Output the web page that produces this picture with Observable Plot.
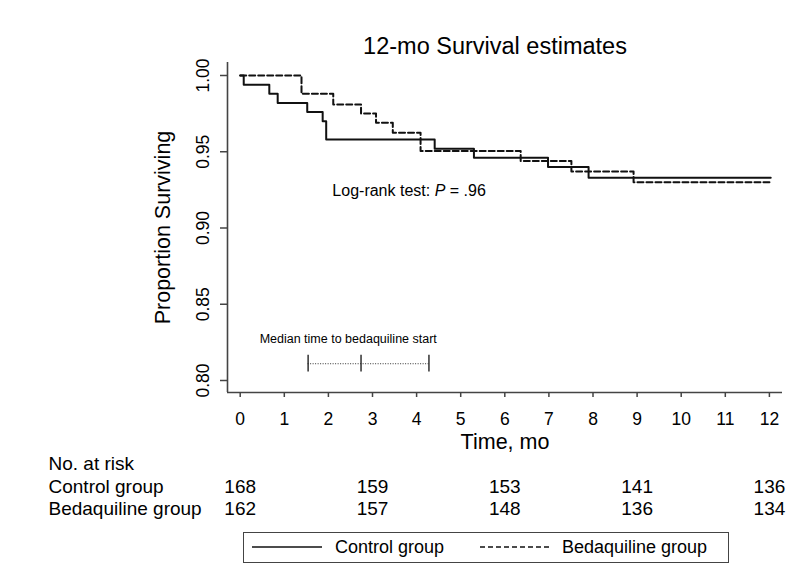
<!DOCTYPE html>
<html>
<head>
<meta charset="utf-8">
<script src="https://cdn.jsdelivr.net/npm/d3@7"></script>
<script src="https://cdn.jsdelivr.net/npm/@observablehq/plot@0.6"></script>
<style>
  html, body { margin: 0; padding: 0; background: #fff; }
  #wrap { position: relative; width: 796px; height: 585px; font-family: "Liberation Sans", Arial, sans-serif; }
  #wrap svg.plot { position: absolute; left: 0; top: 0; }
  #legend { position: absolute; left: 243px; top: 532px; width: 486px; height: 31px; box-sizing: border-box; border: 1.5px solid #444; background: #fff; }
  #legend svg { position: absolute; left: 0; top: 0; }
</style>
</head>
<body>
<div id="wrap"></div>
<script>
// ---- data ----
const title = "12-mo Survival estimates";
const xLabel = "Time, mo";
const yLabel = "Proportion Surviving";
const months = [0, 1, 2, 3, 4, 5, 6, 7, 8, 9, 10, 11, 12];
const yTicks = [0.80, 0.85, 0.90, 0.95, 1.00];

const controlName = "Control group";
const controlTime = [0, 0.08, 0.66, 0.85, 1.52, 1.87, 1.95, 4.41, 5.30, 6.98, 7.90, 12.03];
const controlSurv = [1.000, 0.994, 0.988, 0.982, 0.976, 0.970, 0.958, 0.952, 0.946, 0.940, 0.933, 0.933];

const bedaqName = "Bedaquiline group";
const bedaqTime = [0, 1.39, 2.11, 2.74, 3.08, 3.46, 4.09, 6.36, 7.51, 8.92, 12.03];
const bedaqSurv = [1.000, 0.988, 0.981, 0.975, 0.969, 0.9625, 0.9505, 0.944, 0.937, 0.930, 0.930];

const riskTitle = "No. at risk";
const riskTimes = [0, 3, 6, 9, 12];
const riskControl = [168, 159, 153, 141, 136];
const riskBedaq = [162, 157, 148, 136, 134];

const medianLabel = "Median time to bedaquiline start";
const medianTimes = [1.54, 2.74, 4.28];   // lower, median, upper
const medianLevel = 0.811;
const medianTickHalf = 0.0055;
const medianLabelPos = {t: 2.45, s: 0.8275};

const logrankText = "Log-rank test: P = .96";
const logrankPos = {t: 2.09, s: 0.9246};

const xDomain = [-0.288, 12.297];
const yDomain = [0.79213, 1.00852];

// ---- build ----
const controlData = controlTime.map((t, i) => ({t, s: controlSurv[i]}));
const bedaqData = bedaqTime.map((t, i) => ({t, s: bedaqSurv[i]}));
const controlCells = riskTimes.map((t, i) => ({t, v: riskControl[i]}));
const bedaqCells = riskTimes.map((t, i) => ({t, v: riskBedaq[i]}));

const font = "'Liberation Sans', Arial, sans-serif";
const axisColor = "#444";
const rowDy = {title: 71, control: 94, bedaq: 116};
const tableFont = 19;

const marks = [
  // axis lines
  Plot.ruleX([xDomain[0]], {stroke: axisColor, strokeWidth: 1.6}),
  Plot.ruleY([yDomain[0]], {stroke: axisColor, strokeWidth: 1.6}),
  Plot.axisX({ticks: months, tickSize: 5, tickPadding: 15, fontSize: 17.5, label: null, stroke: axisColor, strokeWidth: 1.5, tickFormat: d => String(d)}),
  Plot.axisY({ticks: yTicks, tickSize: 7, tickFormat: () => "", label: null, stroke: axisColor, strokeWidth: 1.5}),
  Plot.text(yTicks, {y: d => d, frameAnchor: "left", dx: -24, rotate: -90, textAnchor: "middle", lineAnchor: "middle", text: d => d.toFixed(2), fontSize: 17.5, fill: "#000"}),
  Plot.text([xLabel], {frameAnchor: "bottom", dy: 50, lineAnchor: "middle", fontSize: 21.5, fill: "#000"}),
  Plot.text([yLabel], {frameAnchor: "left", dx: -64, rotate: -90, textAnchor: "middle", lineAnchor: "middle", fontSize: 21.5, fill: "#000"}),
  Plot.text([title], {frameAnchor: "top", dx: -10, dy: -16, lineAnchor: "middle", fontSize: 23.5, fill: "#000"}),
  // survival curves
  Plot.line(controlData, {x: "t", y: "s", curve: "step-after", stroke: "#111", strokeWidth: 2}),
  Plot.line(bedaqData, {x: "t", y: "s", curve: "step-after", stroke: "#111", strokeWidth: 2, strokeDasharray: "6,3"}),
  // median time annotation
  Plot.ruleY([medianLevel], {x1: medianTimes[0], x2: medianTimes[2], stroke: "#333", strokeWidth: 1, strokeDasharray: "1,1.5"}),
  Plot.ruleX(medianTimes, {y1: medianLevel - medianTickHalf, y2: medianLevel + medianTickHalf, stroke: "#222", strokeWidth: 1.4}),
  Plot.text([medianLabel], {x: medianLabelPos.t, y: medianLabelPos.s, fontSize: 12.5, fill: "#000"}),
  // log-rank
  Plot.text([logrankText], {x: logrankPos.t, y: logrankPos.s, textAnchor: "start", fontSize: 16, fill: "#000"}),
  // risk table
  Plot.text([riskTitle], {frameAnchor: "bottom-left", dx: -179, dy: rowDy.title, textAnchor: "start", lineAnchor: "middle", fontSize: tableFont, fill: "#000"}),
  Plot.text([controlName], {frameAnchor: "bottom-left", dx: -179, dy: rowDy.control, textAnchor: "start", lineAnchor: "middle", fontSize: tableFont, fill: "#000"}),
  Plot.text([bedaqName], {frameAnchor: "bottom-left", dx: -179, dy: rowDy.bedaq, textAnchor: "start", lineAnchor: "middle", fontSize: tableFont, fill: "#000"}),
  Plot.text(controlCells, {x: "t", frameAnchor: "bottom", dy: rowDy.control, lineAnchor: "middle", text: d => String(d.v), fontSize: tableFont, fill: "#000"}),
  Plot.text(bedaqCells, {x: "t", frameAnchor: "bottom", dy: rowDy.bedaq, lineAnchor: "middle", text: d => String(d.v), fontSize: tableFont, fill: "#000"})
];

const chart = Plot.plot({
  width: 796,
  height: 585,
  marginLeft: 227,
  marginRight: 14,
  marginTop: 62,
  marginBottom: 193,
  x: {domain: xDomain},
  y: {domain: yDomain},
  style: {fontFamily: font, color: "#000", background: "transparent", overflow: "visible"},
  marks
});
chart.classList.add("plot");

// italic P in log-rank label
d3.select(chart).selectAll("text").filter(function() { return this.textContent === logrankText; }).each(function() {
  const el = d3.select(this);
  el.text(null);
  el.append("tspan").text("Log-rank test: ");
  el.append("tspan").attr("font-style", "italic").text("P");
  el.append("tspan").text(" = .96");
});

const wrap = document.getElementById("wrap");
wrap.appendChild(chart);

// legend
const legend = document.createElement("div");
legend.id = "legend";
const lsvg = d3.create("svg").attr("width", 484).attr("height", 29).style("font-family", font);
const items = [
  {name: controlName, dash: null, x0: 8, x1: 78, tx: 91},
  {name: bedaqName, dash: "5,3", x0: 236, x1: 306, tx: 318}
];
for (const it of items) {
  lsvg.append("line").attr("x1", it.x0).attr("x2", it.x1).attr("y1", 14).attr("y2", 14)
    .attr("stroke", "#111").attr("stroke-width", 1.5).attr("stroke-dasharray", it.dash);
  lsvg.append("text").attr("x", it.tx).attr("y", 14).attr("dy", "0.35em").attr("font-size", 18).attr("fill", "#000").text(it.name);
}
legend.appendChild(lsvg.node());
wrap.appendChild(legend);
</script>
</body>
</html>
